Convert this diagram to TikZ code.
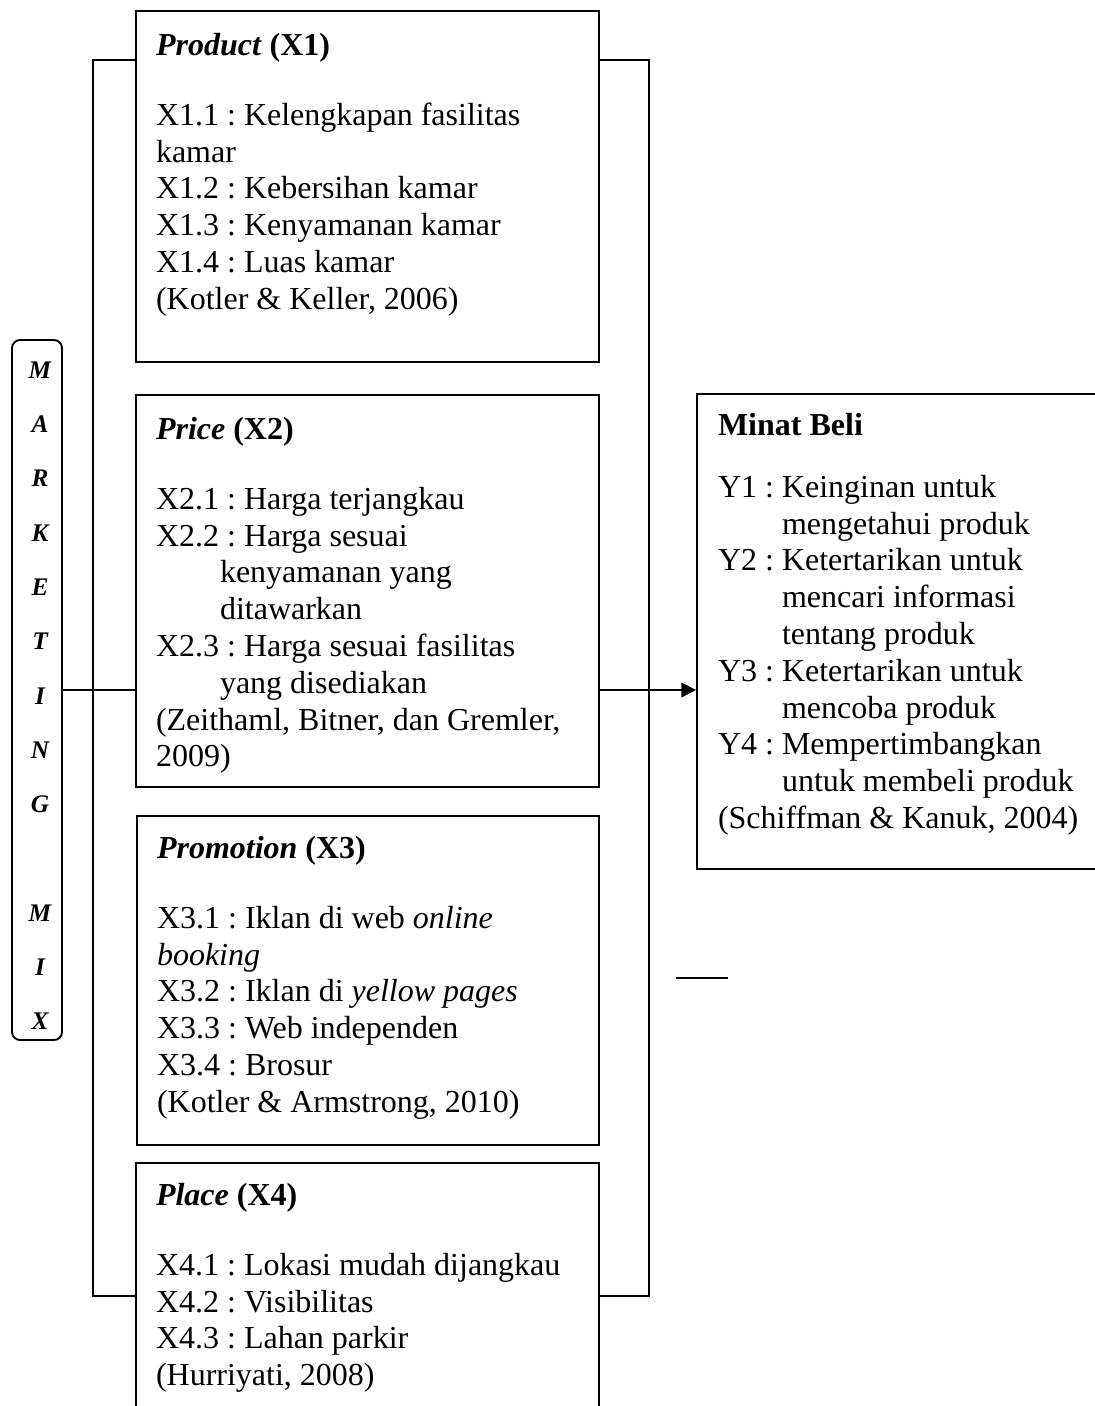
\documentclass[tikz,border=0pt]{standalone}
\usepackage{fontspec}
\setmainfont{Liberation Serif}
\usetikzlibrary{arrows.meta,fit}

\tikzset{
  box/.style={draw, inner sep=0pt},
  txt/.style={anchor=north west, align=left, inner sep=0pt, font=\fontsize{12}{13.8}\selectfont\frenchspacing},
  letter/.style={inner sep=0pt, font=\fontsize{9.5}{11}\selectfont\bfseries\itshape}
}

\begin{document}
\begin{tikzpicture}[x=0.375pt, y=-0.375pt, line width=0.7pt]
    \useasboundingbox (0,0) rectangle (1095,1406);

    % Marketing mix
    \node[box, rounded corners=3pt, fit={(12,340) (62,1040)}] (mix) {};
    \foreach \ch [count=\k from 0] in {M,A,R,K,E,T,I,N,G,{},M,I,X}
        \node[letter] (mix\k) at (40,370+54.3*\k) {\ch};

    % Product
    \node[box, fit={(136,11) (599,362)}] (product) {};
    \node[txt] (producttxt) at ([shift={(20,22)}]product.north west)
        {\textbf{\textit{Product}} \textbf{(X1)}\\[12.5pt]
         X1.1 : Kelengkapan fasilitas\\
         kamar\\
         X1.2 : Kebersihan kamar\\
         X1.3 : Kenyamanan kamar\\
         X1.4 : Luas kamar\\
         (Kotler \& Keller, 2006)};

    % Price
    \node[box, fit={(136,395) (599,787)}] (price) {};
    \node[txt] (pricetxt) at ([shift={(20,22)}]price.north west)
        {\textbf{\textit{Price}} \textbf{(X2)}\\[12.5pt]
         X2.1 : Harga terjangkau\\
         X2.2 : Harga sesuai\\
         \hspace*{2em}kenyamanan yang\\
         \hspace*{2em}ditawarkan\\
         X2.3 : Harga sesuai fasilitas\\
         \hspace*{2em}yang disediakan\\
         (Zeithaml, Bitner, dan Gremler,\\
         2009)};

    % Promotion
    \node[box, fit={(137,816) (599,1145)}] (promotion) {};
    \node[txt] (promotiontxt) at ([shift={(20,20)}]promotion.north west)
        {\textbf{\textit{Promotion}} \textbf{(X3)}\\[12.5pt]
         X3.1 : Iklan di web \textit{online}\\
         \textit{booking}\\
         X3.2 : Iklan di \textit{yellow pages}\\
         X3.3 : Web independen\\
         X3.4 : Brosur\\
         (Kotler \& Armstrong, 2010)};

    % Place (runs off the page)
    \node[box, fit={(136,1163) (599,1425)}] (place) {};
    \node[txt] (placetxt) at ([shift={(20,20)}]place.north west)
        {\textbf{\textit{Place}} \textbf{(X4)}\\[12.5pt]
         X4.1 : Lokasi mudah dijangkau\\
         X4.2 : Visibilitas\\
         X4.3 : Lahan parkir\\
         (Hurriyati, 2008)};

    % Minat Beli
    \node[box, fit={(697,394) (1115,869)}] (minat) {};
    \node[txt] (minattxt) at ([shift={(21,19)}]minat.north west)
        {\textbf{Minat Beli}\\[9.5pt]
         Y1 : Keinginan untuk\\
         \hphantom{Y1 : }mengetahui produk\\
         Y2 : Ketertarikan untuk\\
         \hphantom{Y2 : }mencari informasi\\
         \hphantom{Y2 : }tentang produk\\
         Y3 : Ketertarikan untuk\\
         \hphantom{Y3 : }mencoba produk\\
         Y4 : Mempertimbangkan\\
         \hphantom{Y4 : }untuk membeli produk\\
         (Schiffman \& Kanuk, 2004)};

    % brackets
    \draw (product.west |- 0,60) -| (93,1296) -- (place.west |- 0,1296);
    \draw (product.east |- 0,60) -| (649,1296) -- (place.east |- 0,1296);

    % links
    \draw (mix.east) -- (mix.east -| price.west);
    \draw[-{Triangle[length=5.5pt,width=5.5pt]}] (mix.east -| price.east) -- (mix.east -| minat.west);

    % stray stroke
    \coordinate (stray) at (676,978);
    \draw (stray) -- ++(52,0);
\end{tikzpicture}
\end{document}
